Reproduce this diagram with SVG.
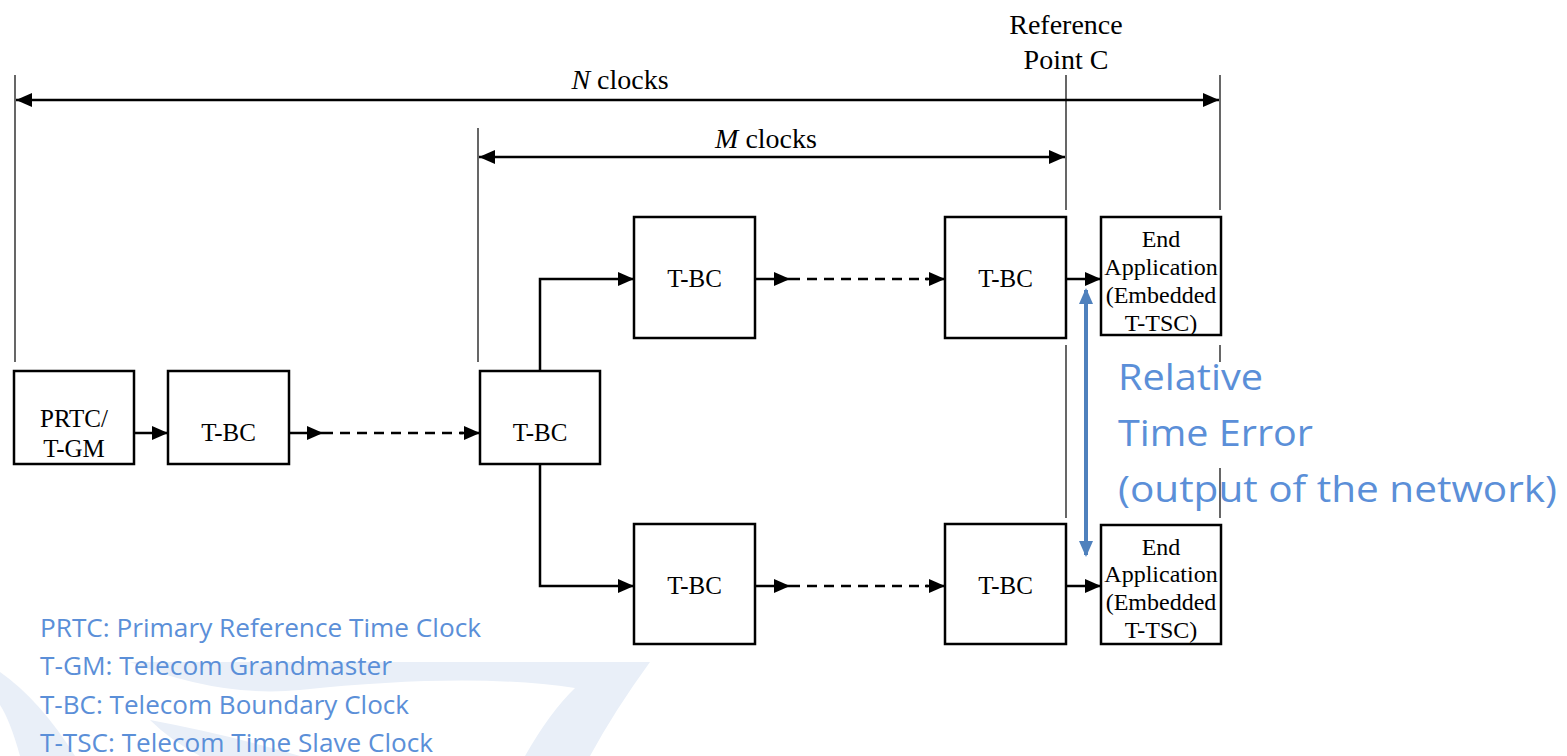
<svg xmlns="http://www.w3.org/2000/svg" width="1567" height="756" viewBox="0 0 1567 756">
<style>
.box{fill:#fff;stroke:#000;stroke-width:2.5}
.lbl{font-family:"Liberation Serif",serif;font-size:25px;fill:#000;text-anchor:middle}
.lbl2{font-family:"Liberation Serif",serif;font-size:24px;fill:#000;text-anchor:middle}
.top{font-family:"Liberation Serif",serif;font-size:28px;fill:#000;text-anchor:middle}
.conn{fill:none;stroke:#000;stroke-width:2.5}
.dash{fill:none;stroke:#000;stroke-width:2.5;stroke-dasharray:10 7}
.thin{fill:none;stroke:#000;stroke-width:1.2}
.blue{font-family:"Open Sans","Noto Sans",sans-serif;fill:#5B8FD8}
.wm{fill:#E9EFF8}
</style>
<defs>
<marker id="ah" markerUnits="userSpaceOnUse" markerWidth="16" markerHeight="14" refX="16" refY="7" orient="auto">
<path d="M0,0 L16,7 L0,14 Z" fill="#000"/>
</marker>
<marker id="ahs" markerUnits="userSpaceOnUse" markerWidth="16" markerHeight="14" refX="16" refY="7" orient="auto-start-reverse">
<path d="M0,0 L16,7 L0,14 Z" fill="#000"/>
</marker>
<marker id="bh" markerUnits="userSpaceOnUse" markerWidth="16" markerHeight="14" refX="14" refY="7" orient="auto-start-reverse">
<path d="M0,0 L16,7 L0,14 Z" fill="#4F81BD"/>
</marker>
</defs>
<rect width="1567" height="756" fill="#fff"/>
<g id="watermark">
<path class="wm" d="M130,662 L650,662 Q615,710 590,756 L525,756 Q550,712 575,688 Q470,672 300,690 Q220,698 130,662 Z"/>
<path class="wm" d="M0,672 Q40,700 75,756 L20,756 Q10,720 0,705 Z"/>
<path class="wm" d="M150,720 Q230,735 300,756 L200,756 Q170,740 150,720 Z"/>
</g>
<g id="dimensions">
<line class="thin" x1="15" y1="75" x2="15" y2="362" stroke="#555"/>
<line class="thin" x1="1220" y1="75" x2="1220" y2="210"/>
<line class="thin" x1="1066" y1="75" x2="1066" y2="210"/>
<line class="thin" x1="478" y1="128" x2="478" y2="362"/>
<line class="thin" x1="1066" y1="345" x2="1066" y2="518"/>
<line class="thin" x1="1220" y1="345" x2="1220" y2="362"/>
<line class="thin" x1="1220" y1="468" x2="1220" y2="518"/>
<line class="conn" x1="16" y1="100" x2="1219" y2="100" marker-start="url(#ahs)" marker-end="url(#ahs)"/>
<line class="conn" x1="479" y1="157" x2="1065" y2="157" marker-start="url(#ahs)" marker-end="url(#ahs)"/>
<text class="top" x="620" y="89"><tspan font-style="italic">N</tspan> clocks</text>
<text class="top" x="766" y="148"><tspan font-style="italic">M</tspan> clocks</text>
<text class="top" x="1066" y="34">Reference</text>
<text class="top" x="1066" y="69">Point C</text>
</g>
<g id="connectors">
<line class="conn" x1="134" y1="433" x2="168" y2="433" marker-end="url(#ah)"/>
<line class="conn" x1="289" y1="433" x2="323" y2="433" marker-end="url(#ah)"/>
<line class="dash" x1="323" y1="433" x2="463" y2="433"/>
<line class="conn" x1="460" y1="433" x2="480" y2="433" marker-end="url(#ah)"/>
<path class="conn" d="M540,371 L540,279 L634,279" marker-end="url(#ah)"/>
<path class="conn" d="M540,464 L540,586 L634,586" marker-end="url(#ah)"/>
<line class="conn" x1="755" y1="279" x2="790" y2="279" marker-end="url(#ah)"/>
<line class="dash" x1="790" y1="279" x2="928" y2="279"/>
<line class="conn" x1="925" y1="279" x2="945" y2="279" marker-end="url(#ah)"/>
<line class="conn" x1="755" y1="586" x2="790" y2="586" marker-end="url(#ah)"/>
<line class="dash" x1="790" y1="586" x2="928" y2="586"/>
<line class="conn" x1="925" y1="586" x2="945" y2="586" marker-end="url(#ah)"/>
<line class="conn" x1="1066" y1="279" x2="1101" y2="279" marker-end="url(#ah)"/>
<line class="conn" x1="1066" y1="586" x2="1101" y2="586" marker-end="url(#ah)"/>
<line x1="1086" y1="290" x2="1086" y2="555" stroke="#4F81BD" stroke-width="4" marker-start="url(#bh)" marker-end="url(#bh)"/>
</g>
<g id="prtc">
<rect class="box" x="14" y="371" width="120" height="93"/>
<text class="lbl" x="74" y="427">PRTC/</text>
<text class="lbl" x="74" y="457">T-GM</text>
</g>
<g id="tbc1">
<rect class="box" x="168" y="371" width="121" height="93"/>
<text class="lbl" x="228.5" y="441">T-BC</text>
</g>
<g id="tbc2">
<rect class="box" x="480" y="371" width="120" height="93"/>
<text class="lbl" x="540" y="441">T-BC</text>
</g>
<g id="tbc-top1">
<rect class="box" x="634" y="217" width="121" height="121"/>
<text class="lbl" x="694.5" y="287">T-BC</text>
</g>
<g id="tbc-top2">
<rect class="box" x="945" y="217" width="121" height="121"/>
<text class="lbl" x="1005.5" y="287">T-BC</text>
</g>
<g id="tbc-bot1">
<rect class="box" x="634" y="524" width="121" height="120"/>
<text class="lbl" x="694.5" y="594">T-BC</text>
</g>
<g id="tbc-bot2">
<rect class="box" x="945" y="524" width="121" height="120"/>
<text class="lbl" x="1005.5" y="594">T-BC</text>
</g>
<g id="end-top">
<rect class="box" x="1101" y="217" width="120" height="118"/>
<text class="lbl2" x="1161" y="247">End</text>
<text class="lbl2" x="1161" y="275">Application</text>
<text class="lbl2" x="1161" y="303">(Embedded</text>
<text class="lbl2" x="1161" y="331">T-TSC)</text>
</g>
<g id="end-bot">
<rect class="box" x="1101" y="525" width="120" height="119"/>
<text class="lbl2" x="1161" y="555">End</text>
<text class="lbl2" x="1161" y="582">Application</text>
<text class="lbl2" x="1161" y="610">(Embedded</text>
<text class="lbl2" x="1161" y="638">T-TSC)</text>
</g>
<g id="rte-label" class="blue" font-size="36">
<text x="1118" y="390" textLength="145" lengthAdjust="spacingAndGlyphs">Relative</text>
<text x="1118" y="446" textLength="195" lengthAdjust="spacingAndGlyphs">Time Error</text>
<text x="1118" y="502" textLength="439" lengthAdjust="spacingAndGlyphs">(output of the network)</text>
</g>
<g id="legend" class="blue" font-size="25">
<text x="40" y="637" textLength="441" lengthAdjust="spacingAndGlyphs">PRTC: Primary Reference Time Clock</text>
<text x="40" y="675" textLength="352" lengthAdjust="spacingAndGlyphs">T-GM: Telecom Grandmaster</text>
<text x="40" y="714" textLength="369" lengthAdjust="spacingAndGlyphs">T-BC: Telecom Boundary Clock</text>
<text x="40" y="752" textLength="393" lengthAdjust="spacingAndGlyphs">T-TSC: Telecom Time Slave Clock</text>
</g>
</svg>
